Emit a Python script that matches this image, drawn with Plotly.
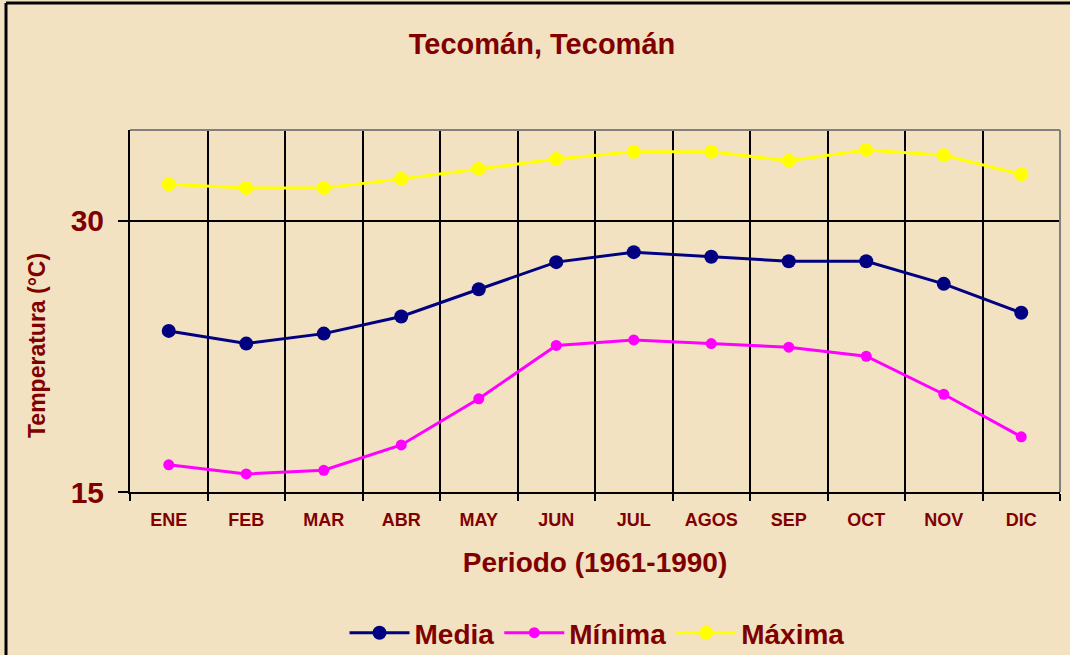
import plotly.graph_objects as go

meses = ["ENE", "FEB", "MAR", "ABR", "MAY", "JUN", "JUL", "AGOS", "SEP", "OCT", "NOV", "DIC"]
media = [23.9, 23.2, 23.75, 24.7, 26.2, 27.7, 28.25, 28.0, 27.75, 27.75, 26.5, 24.9]
minima = [16.5, 16.0, 16.2, 17.6, 20.15, 23.1, 23.4, 23.2, 23.0, 22.5, 20.4, 18.05]
maxima = [32.0, 31.8, 31.8, 32.3, 32.85, 33.4, 33.8, 33.8, 33.3, 33.9, 33.6, 32.55]

DARK = "#800000"
FONT = "Liberation Sans, Arial, sans-serif"
W, H = 1070, 655
ML, MR, MT, MB = 130, 10, 130, 163
PW, PH = W - ML - MR, H - MT - MB


def px_x(x):
    return (x - ML) / PW


def px_y(y):
    return (H - MB - y) / PH


fig = go.Figure()
fig.add_trace(go.Scatter(x=meses, y=media, name="Media", mode="lines+markers",
                         line=dict(color="#000080", width=3),
                         marker=dict(color="#000080", size=14)))
fig.add_trace(go.Scatter(x=meses, y=minima, name="Mínima", mode="lines+markers",
                         line=dict(color="#FF00FF", width=3),
                         marker=dict(color="#FF00FF", size=11)))
fig.add_trace(go.Scatter(x=meses, y=maxima, name="Máxima", mode="lines+markers",
                         line=dict(color="#FFFF00", width=3),
                         marker=dict(color="#FFFF00", size=14)))

bg = "#F2E2C2"
fig.update_layout(
    width=W, height=H,
    margin=dict(l=ML, r=MR, t=MT, b=MB, autoexpand=False),
    paper_bgcolor=bg, plot_bgcolor=bg,
    font=dict(family=FONT, color=DARK),
    title=dict(text="Tecomán, Tecomán", x=542 / W, xanchor="center",
               y=1 - 44 / H, yanchor="middle",
               font=dict(size=29, color=DARK, family=FONT, weight="bold")),
    showlegend=True,
    legend=dict(orientation="h", x=px_x(597), xanchor="center",
                y=px_y(633), yanchor="middle",
                font=dict(size=28, color=DARK, family=FONT, weight="bold"),
                itemwidth=60, bgcolor="rgba(0,0,0,0)", tracegroupgap=0),
    xaxis=dict(
        type="category", tickson="boundaries", ticks="outside", ticklen=7,
        tickcolor="black", tickwidth=2,
        showgrid=True, gridcolor="black", gridwidth=2,
        showline=True, linecolor="black", linewidth=2,
        tickfont=dict(size=18, color=DARK, family=FONT, weight="bold"),
        ticklabelstandoff=10,
        title=dict(text="Periodo (1961-1990)", standoff=24,
                   font=dict(size=28, color=DARK, family=FONT, weight="bold")),
        range=[-0.5, 11.5], fixedrange=True,
    ),
    yaxis=dict(
        range=[15, 35], tickvals=[15, 30], ticktext=["15", "30"],
        ticks="outside", ticklen=10, tickcolor="black", tickwidth=2,
        showgrid=True, gridcolor="black", gridwidth=2,
        showline=True, linecolor="black", linewidth=2, zeroline=False,
        tickfont=dict(size=30, color=DARK, family=FONT, weight="bold"),
        ticklabelstandoff=8,
        fixedrange=True,
    ),
    annotations=[
        dict(text="Temperatura (°C)", xref="paper", yref="paper",
             x=px_x(37), y=px_y(346), xanchor="center", yanchor="middle",
             textangle=-90, showarrow=False,
             font=dict(size=23, color=DARK, family=FONT, weight="bold")),
    ],
    shapes=[
        dict(type="line", xref="paper", yref="paper", x0=0, x1=1, y0=1, y1=1,
             line=dict(color="#808080", width=2), layer="above"),
        dict(type="line", xref="paper", yref="paper", x0=1, x1=1, y0=0, y1=1,
             line=dict(color="#808080", width=2), layer="above"),
        dict(type="line", xref="paper", yref="paper", x0=px_x(6), x1=px_x(6),
             y0=px_y(3), y1=px_y(H + 5), line=dict(color="black", width=3)),
        dict(type="line", xref="paper", yref="paper", x0=px_x(6), x1=px_x(W + 5),
             y0=px_y(3), y1=px_y(3), line=dict(color="black", width=3)),
    ],
)

fig.write_html(
    "out.html",
    config={"displayModeBar": False},
    post_script="document.body.style.margin='0px';document.body.style.overflow='hidden';",
)
